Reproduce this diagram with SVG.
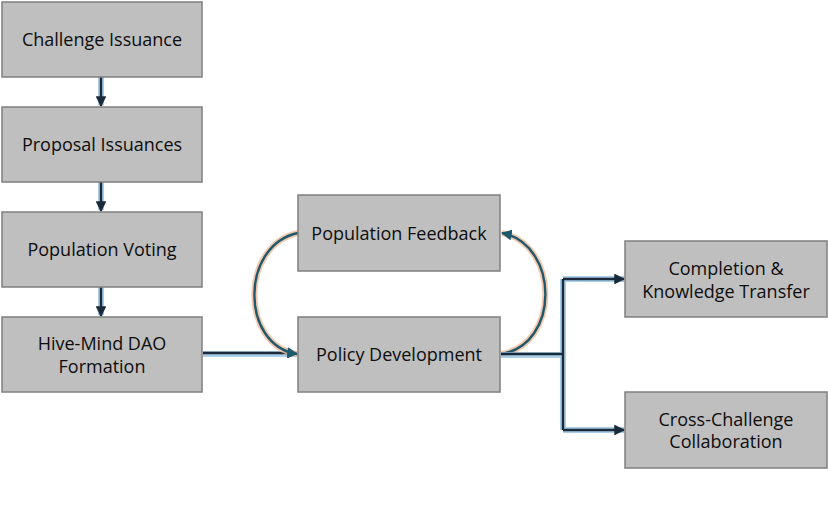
<svg xmlns="http://www.w3.org/2000/svg" width="828" height="527" viewBox="0 0 828 527">
<defs>
<style>
.box{fill:#bfbfbf;stroke:#7f7f7f;stroke-width:1.5}
.t{font-family:"Open Sans","Liberation Sans",sans-serif;font-size:18px;fill:#0d0d0d;text-anchor:middle}
.glow{fill:none;stroke:#9cc6e4;stroke-width:6;opacity:0.85}
.ln{fill:none;stroke:#1b2a3a;stroke-width:2.4}
.oglow{fill:none;stroke:#f2bda0;stroke-width:6;opacity:0.85}
.arc{fill:none;stroke:#1d5a6b;stroke-width:2.4}
</style>
<marker id="ah" viewBox="0 0 10 10" refX="9" refY="5" markerWidth="4.5" markerHeight="4.5" orient="auto"><path d="M0,0 L10,5 L0,10 z" fill="#1b2a3a"/></marker>
<marker id="ah2" viewBox="0 0 10 10" refX="9" refY="5" markerWidth="4.5" markerHeight="4.5" orient="auto"><path d="M0,0 L10,5 L0,10 z" fill="#1d5a6b"/></marker>
</defs>
<rect width="828" height="527" fill="#fff"/>
<g id="connectors">
<path class="glow" d="M101,77 V105 M101,182 V210 M101,287 V315 M203,354 H297"/>
<path class="ln" marker-end="url(#ah)" d="M101,77 V106"/>
<path class="ln" marker-end="url(#ah)" d="M101,182 V211"/>
<path class="ln" marker-end="url(#ah)" d="M101,287 V316"/>
<path class="ln" marker-end="url(#ah)" d="M203,353 H297"/>
<path class="oglow" d="M298,233 C240,245 240,345 297,354"/>
<path class="arc" marker-end="url(#ah2)" d="M298,233 C240,245 240,345 297,354"/>
<path class="oglow" d="M501,354 C560,345 560,245 502,233"/>
<path class="arc" marker-end="url(#ah2)" d="M501,354 C560,345 560,245 502,233"/>
<path class="glow" d="M501,355 H563 M563,279 V430 M563,279 H624 M563,430 H624"/>
<path class="ln" d="M501,354 H563 M563,279 V430"/>
<path class="ln" marker-end="url(#ah)" d="M563,279 H624"/>
<path class="ln" marker-end="url(#ah)" d="M563,430 H624"/>
</g>
<g id="n1"><rect class="box" x="2" y="2" width="200" height="75"/><text class="t" x="102" y="46">Challenge Issuance</text></g>
<g id="n2"><rect class="box" x="2" y="107" width="200" height="75"/><text class="t" x="102" y="151">Proposal Issuances</text></g>
<g id="n3"><rect class="box" x="2" y="212" width="200" height="75"/><text class="t" x="102" y="256">Population Voting</text></g>
<g id="n4"><rect class="box" x="2" y="317" width="200" height="75"/><text class="t" x="102" y="350">Hive-Mind DAO</text><text class="t" x="102" y="373">Formation</text></g>
<g id="n5"><rect class="box" x="298" y="195" width="202" height="76"/><text class="t" x="399" y="240">Population Feedback</text></g>
<g id="n6"><rect class="box" x="298" y="317" width="202" height="75"/><text class="t" x="399" y="361">Policy Development</text></g>
<g id="n7"><rect class="box" x="625" y="241" width="202" height="76"/><text class="t" x="726" y="275">Completion &amp;</text><text class="t" x="726" y="298">Knowledge Transfer</text></g>
<g id="n8"><rect class="box" x="625" y="392" width="202" height="76"/><text class="t" x="726" y="426">Cross-Challenge</text><text class="t" x="726" y="448">Collaboration</text></g>
</svg>
